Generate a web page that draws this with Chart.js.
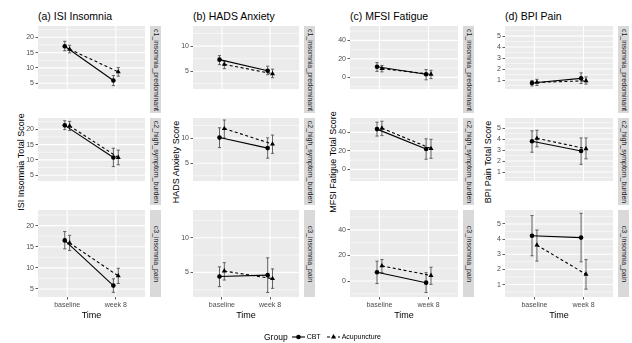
<!DOCTYPE html>
<html>
<head>
<meta charset="utf-8">
<script src="https://cdn.jsdelivr.net/npm/chart.js@4.4.1/dist/chart.umd.min.js"></script>
<style>
body { margin: 0; background: #fff; font-family: "Liberation Sans", Arial, sans-serif; }
#wrap { position: relative; width: 632px; height: 343px; overflow: hidden; }
canvas.panel { position: absolute; }
.ptitle { position: absolute; font-size: 10.5px; line-height: 12px; color: #000; white-space: nowrap; }
.ytitle { position: absolute; font-size: 9px; line-height: 11px; color: #000; white-space: nowrap;
          transform: translate(-50%, -50%) rotate(-90deg); }
.strip { position: absolute; background: #D9D9D9; overflow: visible; }
.strip div { position: absolute; left: 50%; top: 50%; font-size: 7px; line-height: 8px; color: #1A1A1A;
             white-space: nowrap; transform: translate(-50%, -50%) rotate(90deg); }
#legend { position: absolute; left: 264px; top: 330px; height: 13px; display: flex; align-items: center; white-space: nowrap; }
#legend span { color: #000; }
</style>
</head>
<body>
<div id="wrap"></div>
<script>
// facets and labels
var times = ['baseline', 'week 8'];
var clusters = ['c1_insomnia_predominant', 'c2_high_symptom_burden', 'c3_insomnia_pain'];
var groups = ['CBT', 'Acupuncture'];
var panelTitles = ['(a) ISI Insomnia', '(b) HADS Anxiety', '(c) MFSI Fatigue', '(d) BPI Pain'];
var yTitles = ['ISI Insomnia Total Score', 'HADS Anxiety Score', 'MFSI Fatigue Total Score', 'BPI Pain Total Score'];
var yTicks = [[5, 10, 15, 20], [5, 10], [0, 20, 40], [1, 2, 3, 4, 5]];
var yLimits = [[3.1, 23.7], [1.45, 14.0], [-12.5, 55.5], [0.18, 5.92]];

// means and error bar ends, [cluster][time]
var isiCbt    = [[17.1, 5.9], [21.3, 10.8], [16.5, 5.8]];
var isiCbtLo  = [[15.6, 4.2], [19.9, 7.8], [14.5, 4.2]];
var isiCbtHi  = [[18.7, 7.5], [22.8, 13.8], [18.6, 7.4]];
var isiAcu    = [[16.1, 8.7], [21.1, 10.8], [15.9, 8.1]];
var isiAcuLo  = [[14.9, 7.3], [19.6, 8.4], [14.1, 6.3]];
var isiAcuHi  = [[17.4, 10.1], [22.6, 13.2], [17.7, 9.9]];

var hadsCbt   = [[7.3, 5.1], [10.1, 8.0], [4.4, 4.6]];
var hadsCbtLo = [[6.3, 4.3], [8.1, 6.0], [2.95, 2.1]];
var hadsCbtHi = [[8.1, 6.0], [12.05, 10.05], [5.8, 7.1]];
var hadsAcu   = [[6.35, 4.5], [11.9, 8.8], [5.2, 4.1]];
var hadsAcuLo = [[5.5, 3.7], [10.0, 6.95], [3.9, 2.7]];
var hadsAcuHi = [[7.0, 5.4], [13.6, 10.6], [6.4, 5.5]];

var mfsiCbt   = [[11.5, 3.4], [43.5, 22.0], [6.8, -1.3]];
var mfsiCbtLo = [[6.5, -2.6], [36.0, 11.0], [-2.0, -9.0]];
var mfsiCbtHi = [[16.0, 8.5], [51.0, 33.0], [15.5, 6.5]];
var mfsiAcu   = [[9.5, 3.4], [44.5, 22.5], [11.8, 4.3]];
var mfsiAcuLo = [[6.0, -1.3], [36.5, 12.0], [6.5, -2.6]];
var mfsiAcuHi = [[12.9, 7.7], [52.0, 32.5], [16.8, 10.8]];

var bpiCbt    = [[0.72, 1.15], [3.8, 2.92], [4.22, 4.1]];
var bpiCbtLo  = [[0.46, 0.68], [2.8, 1.7], [2.9, 2.5]];
var bpiCbtHi  = [[0.96, 1.65], [4.75, 4.1], [5.55, 5.7]];
var bpiAcu    = [[0.78, 0.93], [4.07, 3.12], [3.6, 1.68]];
var bpiAcuLo  = [[0.5, 0.63], [3.3, 2.2], [2.55, 0.7]];
var bpiAcuHi  = [[1.06, 1.28], [4.8, 4.1], [4.6, 2.65]];

var measures = [
    {cbt: isiCbt, cbtLo: isiCbtLo, cbtHi: isiCbtHi, acu: isiAcu, acuLo: isiAcuLo, acuHi: isiAcuHi},
    {cbt: hadsCbt, cbtLo: hadsCbtLo, cbtHi: hadsCbtHi, acu: hadsAcu, acuLo: hadsAcuLo, acuHi: hadsAcuHi},
    {cbt: mfsiCbt, cbtLo: mfsiCbtLo, cbtHi: mfsiCbtHi, acu: mfsiAcu, acuLo: mfsiAcuLo, acuHi: mfsiAcuHi},
    {cbt: bpiCbt, cbtLo: bpiCbtLo, cbtHi: bpiCbtHi, acu: bpiAcu, acuLo: bpiAcuLo, acuHi: bpiAcuHi}
];

// layout
var colLeft = [38, 193, 350, 505];
var colWidth = [111, 110, 112, 112];
var rowTop = [26, 118, 210];
var panelH = 87;
var axisW = 26, padV = 8, xAxisH = 24;
var dodge = 0.05;

Chart.defaults.font.family = '"Liberation Sans", Arial, sans-serif';

var wrap = document.getElementById('wrap');

// grey panel with ggplot style grid
var facetPanel = {
    id: 'facetPanel',
    beforeDraw: function (chart, args, opts) {
        var ctx = chart.ctx, a = chart.chartArea, x = chart.scales.x, y = chart.scales.y;
        ctx.save();
        ctx.fillStyle = '#EBEBEB';
        ctx.fillRect(a.left, a.top, a.right - a.left, a.bottom - a.top);
        ctx.strokeStyle = '#FFFFFF';
        var majors = opts.ticks;
        var step = majors[1] - majors[0];
        var minors = [majors[0] - step / 2].concat(majors.map(function (v) { return v + step / 2; }));
        ctx.lineWidth = 0.55;
        minors.forEach(function (v) {
            if (v <= y.min || v >= y.max) return;
            var py = y.getPixelForValue(v);
            ctx.beginPath(); ctx.moveTo(a.left, py); ctx.lineTo(a.right, py); ctx.stroke();
        });
        ctx.lineWidth = 1.1;
        majors.forEach(function (v) {
            var py = y.getPixelForValue(v);
            ctx.beginPath(); ctx.moveTo(a.left, py); ctx.lineTo(a.right, py); ctx.stroke();
        });
        [1, 2].forEach(function (v) {
            var px = x.getPixelForValue(v);
            ctx.beginPath(); ctx.moveTo(px, a.top); ctx.lineTo(px, a.bottom); ctx.stroke();
        });
        ctx.restore();
    }
};

var errorBars = {
    id: 'errorBars',
    beforeDatasetsDraw: function (chart) {
        var ctx = chart.ctx, x = chart.scales.x, y = chart.scales.y;
        ctx.save();
        ctx.strokeStyle = '#555555';
        ctx.lineWidth = 0.9;
        chart.data.datasets.forEach(function (ds) {
            ds.lo.forEach(function (lo, i) {
                var px = x.getPixelForValue(ds.data[i].x);
                var y1 = y.getPixelForValue(lo), y2 = y.getPixelForValue(ds.hi[i]);
                ctx.beginPath();
                ctx.moveTo(px, y1); ctx.lineTo(px, y2);
                ctx.moveTo(px - 1.6, y1); ctx.lineTo(px + 1.6, y1);
                ctx.moveTo(px - 1.6, y2); ctx.lineTo(px + 1.6, y2);
                ctx.stroke();
            });
        });
        ctx.restore();
    }
};

function addDiv(cls, text, left, top) {
    var d = document.createElement('div');
    d.className = cls;
    d.textContent = text;
    d.style.left = left + 'px';
    d.style.top = top + 'px';
    wrap.appendChild(d);
    return d;
}

panelTitles.forEach(function (t, c) {
    addDiv('ptitle', t, colLeft[c], 9.5);
    addDiv('ytitle', yTitles[c], colLeft[c] - 17.5, (rowTop[0] + rowTop[2] + panelH) / 2);
});

measures.forEach(function (m, c) {
    clusters.forEach(function (cl, r) {
        var bottom = r === clusters.length - 1;

        // facet strip on the right
        var s = addDiv('strip', '', colLeft[c] + colWidth[c] + 1, rowTop[r]);
        s.style.width = '11px';
        s.style.height = panelH + 'px';
        var st = document.createElement('div');
        st.textContent = cl;
        s.appendChild(st);

        var cv = document.createElement('canvas');
        cv.className = 'panel';
        var w = axisW + colWidth[c];
        var h = padV + panelH + (bottom ? xAxisH : padV);
        cv.width = w; cv.height = h;
        cv.style.left = (colLeft[c] - axisW) + 'px';
        cv.style.top = (rowTop[r] - padV) + 'px';
        wrap.appendChild(cv);

        new Chart(cv, {
            type: 'line',
            data: {
                datasets: [
                    {
                        label: groups[0],
                        data: times.map(function (t, i) { return {x: i + 1 - dodge, y: m.cbt[r][i]}; }),
                        lo: m.cbtLo[r], hi: m.cbtHi[r],
                        borderColor: '#000', backgroundColor: '#000', borderWidth: 1.1,
                        pointStyle: 'circle', pointRadius: 2.3, pointBorderWidth: 0
                    },
                    {
                        label: groups[1],
                        data: times.map(function (t, i) { return {x: i + 1 + dodge, y: m.acu[r][i]}; }),
                        lo: m.acuLo[r], hi: m.acuHi[r],
                        borderColor: '#000', backgroundColor: '#000', borderWidth: 1.1, borderDash: [3, 2.5],
                        pointStyle: 'triangle', pointRadius: 2.9, pointBorderWidth: 0
                    }
                ]
            },
            options: {
                responsive: false,
                animation: false,
                events: [],
                layout: {padding: {left: 0, right: 0, top: padV, bottom: bottom ? 0 : padV}},
                plugins: {
                    legend: {display: false},
                    tooltip: {enabled: false},
                    facetPanel: {ticks: yTicks[c]}
                },
                scales: {
                    x: {
                        type: 'linear', min: 0.4, max: 2.6, display: bottom,
                        afterBuildTicks: function (s) { s.ticks = [{value: 1}, {value: 2}]; },
                        afterFit: function (s) { s.height = xAxisH; },
                        grid: {drawOnChartArea: false, drawTicks: true, tickLength: 2.5, tickColor: '#333333', tickWidth: 0.8},
                        border: {display: false},
                        ticks: {
                            color: '#4D4D4D', font: {size: 7}, padding: 1.5, maxRotation: 0,
                            callback: function (v) { return times[Math.round(v) - 1]; }
                        },
                        title: {display: true, text: 'Time', color: '#000', font: {size: 9}, padding: {top: 0, bottom: 0}}
                    },
                    y: {
                        type: 'linear', min: yLimits[c][0], max: yLimits[c][1],
                        afterBuildTicks: function (s) { s.ticks = yTicks[c].map(function (v) { return {value: v}; }); },
                        afterFit: function (s) { s.width = axisW; },
                        grid: {drawOnChartArea: false, drawTicks: true, tickLength: 2.5, tickColor: '#333333', tickWidth: 0.8},
                        border: {display: false},
                        ticks: {color: '#4D4D4D', font: {size: 7}, padding: 1.5}
                    }
                }
            },
            plugins: [facetPanel, errorBars]
        });
    });
});

// legend
var legend = document.createElement('div');
legend.id = 'legend';
legend.innerHTML =
    '<span style="font-size:8.5px">Group</span>' +
    '<svg width="13" height="10" style="margin:0 2px 0 4px"><line x1="0" y1="5" x2="13" y2="5" stroke="#000" stroke-width="1.1"/><circle cx="6.5" cy="5" r="2.3" fill="#000"/></svg>' +
    '<span style="font-size:7px">' + groups[0] + '</span>' +
    '<svg width="13" height="10" style="margin:0 2px 0 6px"><line x1="0" y1="5" x2="13" y2="5" stroke="#000" stroke-width="1.1" stroke-dasharray="3 2.5"/><path d="M6.5 2.1 L9 6.4 L4 6.4 Z" fill="#000"/></svg>' +
    '<span style="font-size:7px">' + groups[1] + '</span>';
wrap.appendChild(legend);
</script>
</body>
</html>
